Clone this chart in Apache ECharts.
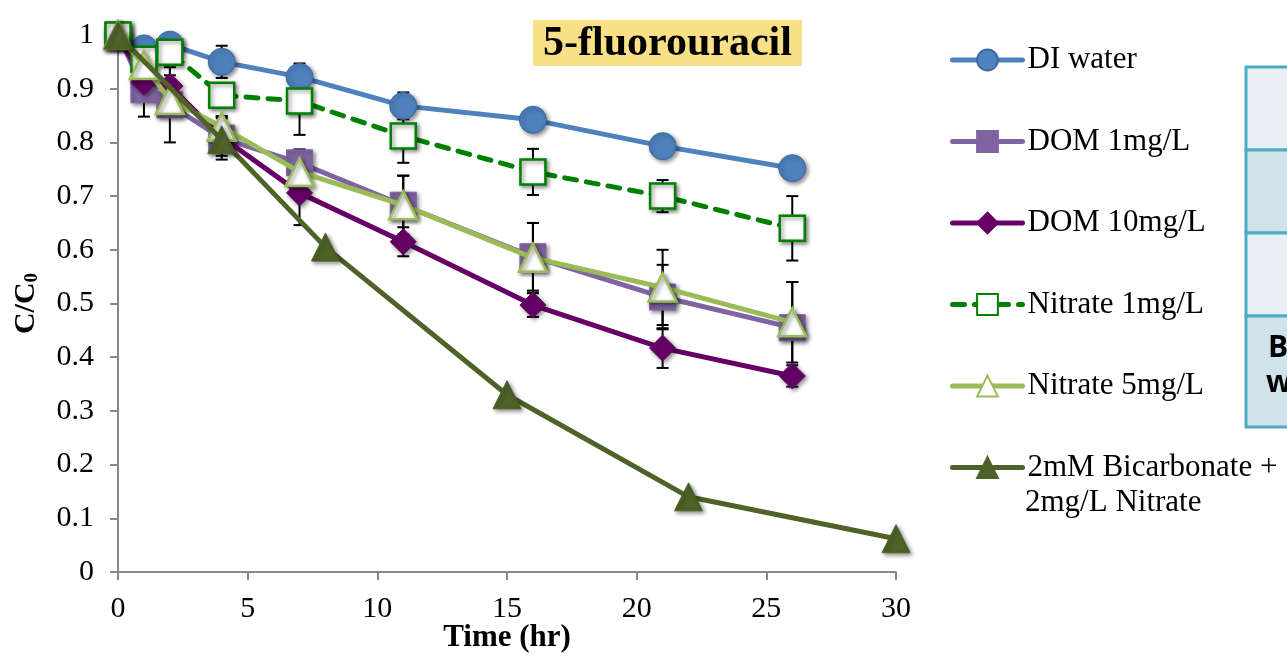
<!DOCTYPE html>
<html><head><meta charset="utf-8">
<script src="https://cdn.jsdelivr.net/npm/echarts@6/dist/echarts.min.js"></script>
<style>html,body{margin:0;padding:0;background:#fff}#c{width:1287px;height:658px}</style>
</head><body><div id="c"></div>
<script>
const time = [0, 1, 2, 4, 7, 11, 16, 21, 26];
const diWater = [1, 0.975, 0.982, 0.95, 0.922, 0.868, 0.842, 0.793, 0.752];
const diWaterErr = [0, 0.02, 0.02, 0.03, 0.025, 0.025, 0.01, 0.01, 0.01];
const dom1 = [1, 0.898, 0.87, 0.808, 0.762, 0.683, 0.587, 0.512, 0.455];
const dom1Err = [0, 0.05, 0.07, 0.04, 0.025, 0.055, 0.063, 0.06, 0.085];
const dom10 = [1, 0.912, 0.905, 0.81, 0.706, 0.615, 0.497, 0.417, 0.365];
const dom10Err = [0, 0.02, 0.02, 0.035, 0.06, 0.027, 0.022, 0.037, 0.02];
const nitrate1 = [1, 0.955, 0.968, 0.888, 0.877, 0.812, 0.745, 0.70, 0.64];
const nitrate1Err = [0, 0.02, 0.02, 0.02, 0.063, 0.05, 0.043, 0.03, 0.06];
const nitrate5 = [1, 0.944, 0.879, 0.829, 0.745, 0.683, 0.585, 0.53, 0.465];
const nitrate5Err = [0, 0.02, 0.03, 0.02, 0.02, 0.055, 0.065, 0.07, 0.075];
const bicTime = [0, 4, 8, 15, 22, 30];
const bicarbonate = [1, 0.805, 0.605, 0.33, 0.14, 0.062];
const names = ['DI water', 'DOM 1mg/L', 'DOM 10mg/L', 'Nitrate 1mg/L', 'Nitrate 5mg/L', '2mM Bicarbonate +', '2mg/L Nitrate'];
const title = '5-fluorouracil';

const serif = '"Liberation Serif", "DejaVu Serif", serif';
const shadow = {shadowBlur: 4, shadowColor: 'rgba(0,0,0,0.45)', shadowOffsetX: 2, shadowOffsetY: 2};

function pairs(xs, ys) { return xs.map((x, i) => [x, ys[i]]); }
function errData(xs, ys, es) { return xs.map((x, i) => [x, ys[i], es[i]]).filter(d => d[2] > 0); }

function errSeries(data) {
  return {
    type: 'custom', silent: true, z: 1,
    data: data,
    renderItem: function (params, api) {
      const x = api.value(0), y = api.value(1), e = api.value(2);
      const top = api.coord([x, y + e]);
      const bot = api.coord([x, y - e]);
      const w = 6;
      const st = {stroke: '#000', lineWidth: 2};
      return {type: 'group', children: [
        {type: 'line', shape: {x1: top[0], y1: top[1], x2: bot[0], y2: bot[1]}, style: st},
        {type: 'line', shape: {x1: top[0] - w, y1: top[1], x2: top[0] + w, y2: top[1]}, style: st},
        {type: 'line', shape: {x1: bot[0] - w, y1: bot[1], x2: bot[0] + w, y2: bot[1]}, style: st}
      ]};
    }
  };
}

function lineSeries(name, data, color, border, symbol, size, fill, dashed, z) {
  return {
    name: name, type: 'line', data: data, z: z,
    symbol: symbol, symbolSize: size,
    lineStyle: {color: color, width: 5, cap: 'round', type: dashed ? [12, 10] : 'solid'},
    itemStyle: Object.assign({color: fill, borderColor: border, borderWidth: fill === '#ffffff' ? 2.5 : 1}, shadow),
    emphasis: {disabled: true}
  };
}

const chart = echarts.init(document.getElementById('c'), null, {renderer: 'canvas'});
chart.setOption({
  animation: false,
  backgroundColor: '#fff',
  grid: {left: 118, right: 391, top: 35, bottom: 86, containLabel: false, outerBoundsMode: 'none'},
  title: {
    text: title, left: 533, top: 20,
    backgroundColor: '#f9df86', padding: [2, 10, 0, 10],
    textStyle: {fontFamily: serif, fontWeight: 'bold', fontSize: 42, color: '#000', lineHeight: 44}
  },
  legend: {
    orient: 'vertical', left: 950, top: 44, padding: 0,
    itemWidth: 70, itemHeight: 26, itemGap: 49.5,
    data: names.slice(0, 6),
    lineStyle: {width: 5, cap: 'round'},
    textStyle: {fontFamily: serif, fontSize: 31, color: '#000', lineHeight: 32},
    selectedMode: false
  },
  xAxis: {
    type: 'value', min: 0, max: 30, interval: 5,
    name: 'Time (hr)', nameLocation: 'middle', nameGap: 66, nameMoveOverlap: false,
    nameTextStyle: {fontFamily: serif, fontWeight: 'bold', fontSize: 31, color: '#000', verticalAlign: 'middle'},
    axisLine: {onZero: false, lineStyle: {color: '#888', width: 2}},
    axisTick: {show: true, length: 8, lineStyle: {color: '#888', width: 2}},
    axisLabel: {fontFamily: serif, fontSize: 30, color: '#000', margin: 22},
    splitLine: {show: false}
  },
  yAxis: {
    type: 'value', min: 0, max: 1, interval: 0.1,
    name: '{a|C/C}{b|0}', nameLocation: 'middle', nameGap: 76, nameRotate: 90,
    nameTextStyle: {rich: {
      a: {fontFamily: serif, fontWeight: 'bold', fontSize: 30, color: '#000'},
      b: {fontFamily: serif, fontWeight: 'bold', fontSize: 19, color: '#000', padding: [12, 0, 0, 0]}
    }},
    axisLine: {show: true, lineStyle: {color: '#888', width: 2}},
    axisTick: {show: true, length: 8, lineStyle: {color: '#888', width: 2}},
    axisLabel: {fontFamily: serif, fontSize: 30, color: '#000', margin: 24},
    splitLine: {show: false}
  },
  graphic: [
    {type: 'rect', shape: {x: 1246, y: 67, width: 60, height: 83}, style: {fill: '#e8f0f4', stroke: '#4bacc6', lineWidth: 3}},
    {type: 'rect', shape: {x: 1246, y: 150, width: 60, height: 83}, style: {fill: '#d0e3ea', stroke: '#4bacc6', lineWidth: 3}},
    {type: 'rect', shape: {x: 1246, y: 233, width: 60, height: 83}, style: {fill: '#e8f0f4', stroke: '#4bacc6', lineWidth: 3}},
    {type: 'rect', shape: {x: 1246, y: 316, width: 60, height: 111}, style: {fill: '#d0e3ea', stroke: '#4bacc6', lineWidth: 3}},
    {type: 'text', left: 1268, top: 333, style: {text: 'B', font: 'bold 30px "Open Sans", "Liberation Sans", sans-serif', fill: '#000'}},
    {type: 'text', left: 1266, top: 368, style: {text: 'w', font: 'bold 30px "Open Sans", "Liberation Sans", sans-serif', fill: '#000'}},
    {type: 'text', left: 1025, top: 487, style: {text: names[6], font: '31px ' + serif, fill: '#000'}}
  ],
  series: [
    errSeries(errData(time, diWater, diWaterErr)),
    errSeries(errData(time, dom1, dom1Err)),
    errSeries(errData(time, dom10, dom10Err)),
    errSeries(errData(time, nitrate1, nitrate1Err)),
    errSeries(errData(time, nitrate5, nitrate5Err)),
    lineSeries(names[0], pairs(time, diWater), '#4f81bd', '#3a6aa5', 'circle', 27, '#4f81bd', false, 3),
    lineSeries(names[1], pairs(time, dom1), '#8064a2', '#8064a2', 'rect', 26, '#8064a2', false, 4),
    lineSeries(names[2], pairs(time, dom10), '#660066', '#660066', 'diamond', 26, '#660066', false, 5),
    lineSeries(names[3], pairs(time, nitrate1), '#008000', '#008000', 'rect', 25, '#ffffff', true, 6),
    lineSeries(names[4], pairs(time, nitrate5), '#9bbb59', '#9bbb59', 'triangle', 28, '#ffffff', false, 7),
    lineSeries(names[5], pairs(bicTime, bicarbonate), '#4f6228', '#4f6228', 'triangle', 28, '#4f6228', false, 8)
  ]
});
</script></body></html>
